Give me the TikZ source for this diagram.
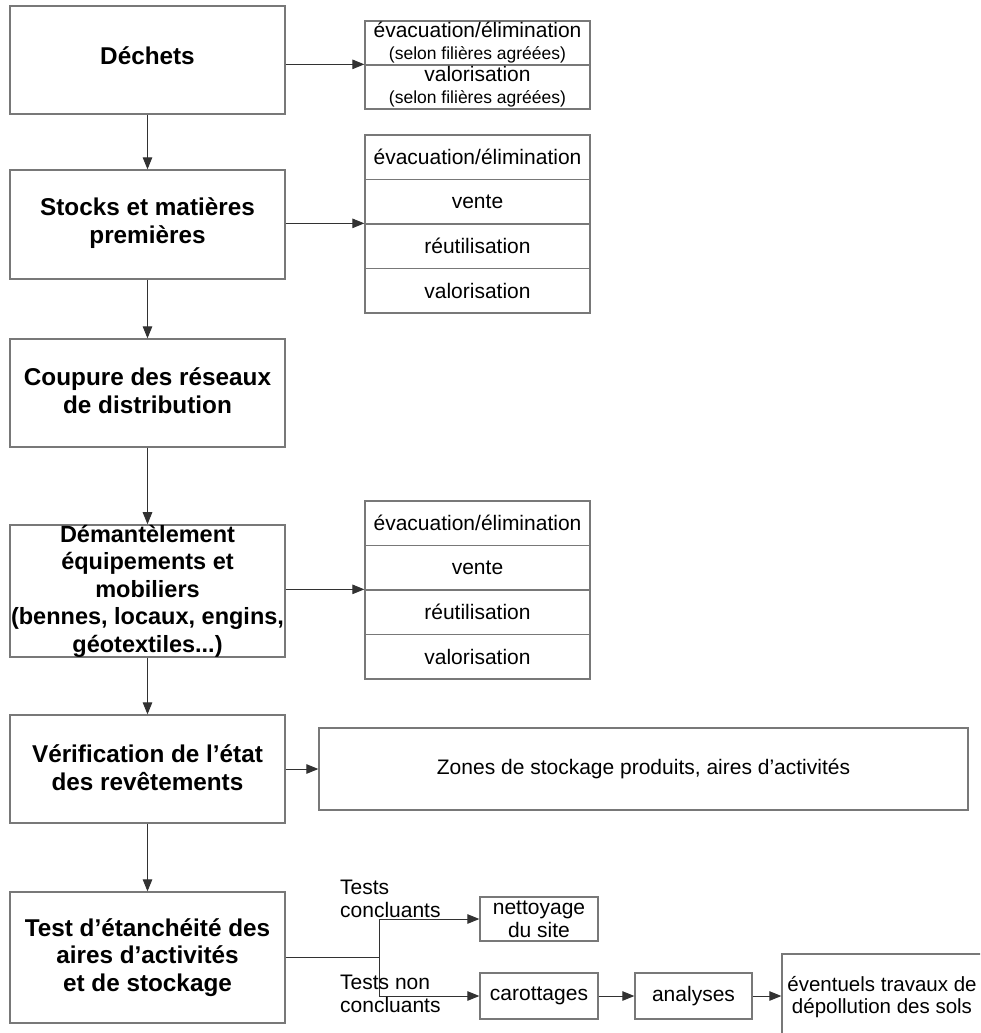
\documentclass[tikz,border=0pt]{standalone}
\usepackage{fontspec}
\setmainfont{Liberation Sans}
\usetikzlibrary{arrows.meta}
\definecolor{boxgray}{RGB}{120,120,120}
\definecolor{linegray}{RGB}{50,50,50}
\begin{document}
\begin{tikzpicture}[x=1pt,y=-1pt,
  box/.style={draw=boxgray,line width=1.3pt,inner sep=0pt,align=center,text=black},
  lbox/.style={box,minimum width=275pt,font=\bfseries\fontsize{24.3}{27.5}\selectfont},
  row/.style={box,minimum width=225pt,minimum height=44.5pt,font=\fontsize{21}{22}\selectfont},
  sbox/.style={box,font=\fontsize{21}{23}\selectfont},
  lab/.style={inner sep=0pt,align=left,anchor=west,font=\fontsize{21}{23}\selectfont},
  arr/.style={draw=linegray,line width=1pt,-{Triangle[length=12pt,width=9.5pt]}},
  plain/.style={draw=linegray,line width=1pt},
]
\useasboundingbox (0,0) rectangle (980,1033);
\clip (0,0) rectangle (980,1033);
\fill[white] (0,0) rectangle (980,1033);

% left column
\node[lbox,minimum height=108pt,text height=16pt,text depth=6pt] (dechets) at (147.5,60) {Déchets};
\node[lbox,minimum height=109pt,text height=42pt,text depth=5pt] (stocks) at (147.5,224.5) {Stocks et matières\\premières};
\node[lbox,minimum height=108pt,text height=40pt,text depth=0pt] (coupure) at (147.5,393) {Coupure des réseaux\\de distribution};
\node[lbox,minimum height=132pt,font=\bfseries\fontsize{23.5}{27.5}\selectfont] (demant) at (147.5,591) {Démantèlement\\équipements et\\mobiliers\\(bennes, locaux, engins,\\géotextiles...)};
\node[lbox,minimum height=108pt,text height=42pt,text depth=0pt] (verif) at (147.5,769) {Vérification de l’état\\des revêtements};
\node[lbox,minimum height=131pt] (test) at (147.5,957.5) {Test d’étanchéité des\\aires d’activités\\et de stockage};

\draw[arr] (dechets) -- (stocks);
\draw[arr] (stocks) -- (coupure);
\draw[arr] (coupure) -- (demant);
\draw[arr] (demant) -- (verif);
\draw[arr] (verif) -- (test);

% right box 1
\node[row,minimum height=44pt] (r1a) at (477.5,43) {évacuation/élimination\\{\fontsize{17.5}{22}\selectfont(selon filières agréées)}};
\node[row,minimum height=44pt] (r1b) at (477.5,87) {valorisation\\{\fontsize{17.5}{22}\selectfont(selon filières agréées)}};
\draw[arr] (dechets.east |- r1b.north west) -- (r1b.north west);

% right box 2
\node[row] (r2a) at (477.5,157.25) {évacuation/élimination};
\node[row] (r2b) at (477.5,201.75) {vente};
\node[row] (r2c) at (477.5,246.25) {réutilisation};
\node[row] (r2d) at (477.5,290.75) {valorisation};
\draw[arr] (stocks.east |- r2c.north west) -- (r2c.north west);

% right box 3
\node[row] (r3a) at (477.5,523.25) {évacuation/élimination};
\node[row] (r3b) at (477.5,567.75) {vente};
\node[row] (r3c) at (477.5,612.25) {réutilisation};
\node[row] (r3d) at (477.5,656.75) {valorisation};
\draw[arr] (demant.east |- r3c.north west) -- (r3c.north west);

% zones
\node[box,minimum width=649pt,minimum height=82pt,font=\fontsize{21}{22}\selectfont] (zones) at (643.5,769) {Zones de stockage produits, aires d’activités};
\draw[arr] (verif.east) -- (verif.east -| zones.west);

% bottom
\node[sbox,minimum width=118pt,minimum height=44pt] (nett) at (539,919) {nettoyage\\du site};
\node[sbox,minimum width=118pt,minimum height=46pt] (carot) at (539,996) {carottages};
\node[sbox,minimum width=117pt,minimum height=46pt] (anal) at (693.5,996) {analyses};
\node[sbox,minimum width=200pt,minimum height=86pt,font=\fontsize{20.5}{22}\selectfont] (event) at (882,997) {éventuels travaux de\\dépollution des sols};

\coordinate (j) at (379,957.5);
\draw[plain] (test.east) -- (j);
\draw[arr] (j) |- (nett.west);
\draw[arr] (j) |- (carot.west);
\draw[arr] (carot) -- (anal);
\draw[arr] (anal.east) -- (anal.east -| event.west);

\node[lab] (l1) at (340,898.5) {Tests\\concluants};
\node[lab] (l2) at (340,994) {Tests non\\concluants};
\end{tikzpicture}
\end{document}
